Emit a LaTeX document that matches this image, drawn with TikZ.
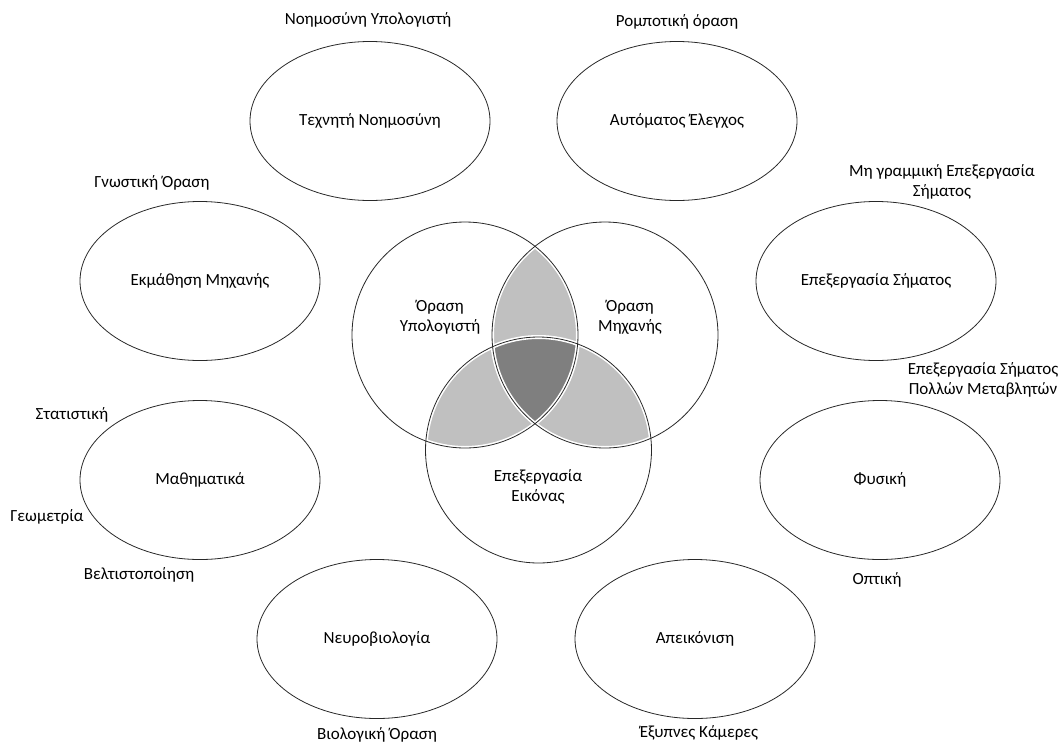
\documentclass[tikz,border=0pt]{standalone}
\usepackage{fontspec}
\setmainfont{Carlito}
\usetikzlibrary{shapes.geometric}
\definecolor{lightsh}{RGB}{192,192,192}
\definecolor{darksh}{RGB}{127,127,127}
\definecolor{edge}{RGB}{40,40,40}
\tikzset{
  field/.style={draw=edge, line width=0.8pt, ellipse, minimum width=240pt, minimum height=159pt, inner sep=0pt, font=\fontsize{17}{20}\selectfont},
  venn/.style={circle, minimum size=226pt, inner sep=0pt},
  lbl/.style={font=\fontsize{17}{20}\selectfont, align=center, inner sep=0pt},
}
\begin{document}
\begin{tikzpicture}[x=1pt,y=-1pt]
\useasboundingbox (0,0) rectangle (1063,745);
% Venn circles
\node[venn] (cv) at (465,335) {};
\node[venn] (mv) at (605,335) {};
\node[venn] (ip) at (538.5,450) {};
\begin{scope}
  \clip (cv.center) circle (113);
  \fill[lightsh] (mv.center) circle (113);
  \fill[lightsh] (ip.center) circle (113);
\end{scope}
\begin{scope}
  \clip (mv.center) circle (113);
  \fill[lightsh] (ip.center) circle (113);
\end{scope}
\begin{scope}
  \clip (cv.center) circle (113);
  \clip (mv.center) circle (113);
  \fill[darksh] (ip.center) circle (113);
\end{scope}
\foreach \c in {cv,mv,ip} \draw[white, line width=4pt] (\c.center) circle (113);
\foreach \c in {cv,mv,ip} \draw[edge, line width=0.8pt] (\c.center) circle (113);
\node[lbl] (cvt) at (440,317) {Όραση\\Υπολογιστή};
\node[lbl] (mvt) at (630,317) {Όραση\\Μηχανής};
\node[lbl] (ipt) at (538,487) {Επεξεργασία\\Εικόνας};
% outer fields
\node[field] (ai) at (370,121) {Τεχνητή Νοημοσύνη};
\node[field] (ac) at (677,121) {Αυτόματος Έλεγχος};
\node[field] (ml) at (200,281) {Εκμάθηση Μηχανής};
\node[field] (sp) at (876,281) {Επεξεργασία Σήματος};
\node[field] (ma) at (200,480) {Μαθηματικά};
\node[field] (ph) at (880,480) {Φυσική};
\node[field] (nb) at (377,639) {Νευροβιολογία};
\node[field] (im) at (695,639) {Απεικόνιση};
% outer labels
\node[lbl] (l1) at (368,20) {Νοημοσύνη Υπολογιστή};
\node[lbl] (l2) at (677,22) {Ρομποτική όραση};
\node[lbl] (l3) at (152,183) {Γνωστική Όραση};
\node[lbl] (l4) at (942,182) {Μη γραμμική Επεξεργασία\\Σήματος};
\node[lbl] (l5) at (983,380) {Επεξεργασία Σήματος\\Πολλών Μεταβλητών};
\node[lbl] (l6) at (72,415) {Στατιστική};
\node[lbl] (l7) at (47,517) {Γεωμετρία};
\node[lbl] (l8) at (139,575) {Βελτιστοποίηση};
\node[lbl] (l9) at (877,580) {Οπτική};
\node[lbl] (l10) at (377,735) {Βιολογική Όραση};
\node[lbl] (l11) at (699,733) {Έξυπνες Κάμερες};
\end{tikzpicture}
\end{document}
